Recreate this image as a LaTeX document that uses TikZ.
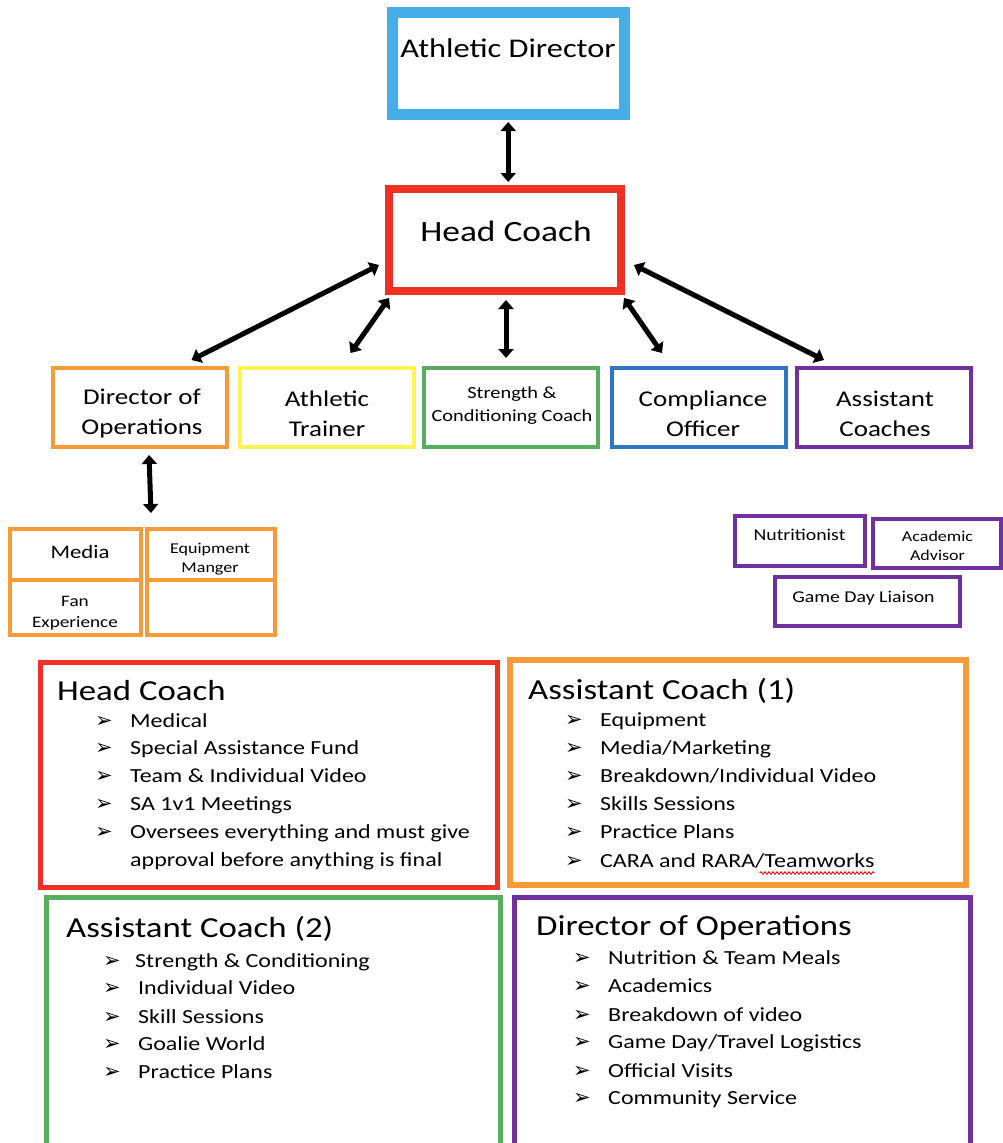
\documentclass[tikz,border=0pt]{standalone}
\usepackage{fontspec}
\setmainfont{Carlito}[FakeStretch=1.2]
\newfontfamily\symfont{DejaVu Sans}
\usetikzlibrary{arrows.meta,calc,decorations.pathmorphing}
\definecolor{cBlue}{HTML}{47ADE8}
\definecolor{cRed}{HTML}{EE3124}
\definecolor{cOrange}{HTML}{F59B38}
\definecolor{cYellow}{HTML}{FFF34D}
\definecolor{cGreen}{HTML}{58AE5E}
\definecolor{cDarkBlue}{HTML}{2F75BF}
\definecolor{cPurple}{HTML}{7130A0}
\newcommand{\fs}[2]{\fontsize{#1}{#2}\selectfont}
\newcommand{\listitem}[5]{%
  \node[bulletmark] (#5b) at (#1,#3) {➢};
  \node[itemtext] (#5) at (#2,#3) {#4};}
\tikzset{
  box/.style={draw, rectangle, inner sep=0pt},
  rowbox/.style={box, line width=4pt, minimum width=174pt, minimum height=79pt},
  rowtext/.style={inner sep=0pt, align=center, font=\fs{22.5}{30}},
  cellbox/.style={box, draw=cOrange, line width=4pt},
  pbox/.style={box, draw=cPurple, line width=4pt},
  bigbox/.style={box, minimum width=456pt},
  titletext/.style={anchor=west, inner sep=0pt, font=\fs{29}{34}},
  itemtext/.style={anchor=west, inner sep=0pt, font=\fs{20}{24}, text height=14pt, text depth=4pt},
  bulletmark/.style={anchor=west, inner sep=0pt, font=\symfont\fs{21}{24}},
  biarrow/.style={{Triangle[length=9pt,width=15pt]}-{Triangle[length=9pt,width=15pt]}, line width=5pt, black},
}
\begin{document}
\begin{tikzpicture}[x=1pt,y=-1pt]
\useasboundingbox (0,0) rectangle (1003,1143);
\clip (0,0) rectangle (1003,1143);
\fill[white] (0,0) rectangle (1003,1143);

% top boxes
\node[box, draw=cBlue, line width=11pt, minimum width=231.5pt, minimum height=102pt] (ad) at (508.25,63.5) {};
\node[inner sep=0pt, font=\fs{27}{32}] (adt) at (508,48) {Athletic Director};
\node[box, draw=cRed, line width=8pt, minimum width=232pt, minimum height=102pt] (hc) at (505,240) {};
\node[inner sep=0pt, font=\fs{29.5}{34}] (hct) at (506,231) {Head Coach};

% row boxes
\node[rowbox, draw=cOrange] (doo) at (139.5,407.5) {};
\node[rowtext] (doot) at (142,414) {Director of\\Operations};
\node[rowbox, draw=cYellow] (at) at (326.5,407.5) {};
\node[rowtext] (att) at (327,414) {Athletic\\Trainer};
\node[rowbox, draw=cGreen] (sc) at (510.5,407.5) {};
\node[rowtext, font=\fs{17}{23}] (sct) at (512,405.5) {Strength \&\\Conditioning Coach};
\node[rowbox, draw=cDarkBlue] (co) at (699,407.5) {};
\node[rowtext] (cot) at (703,414) {Compliance\\Officer};
\node[rowbox, draw=cPurple] (ac) at (884,407.5) {};
\node[rowtext] (act) at (885,414) {Assistant\\Coaches};

% arrows
\draw[biarrow, shorten <=2pt, shorten >=3pt] (ad.south) -- (ad.south |- hc.north);
\draw[biarrow] ($(hc.west)+(-6,25)$) -- ($(doo.north)+(52,-6)$);
\draw[biarrow] ($(hc.south west)+(4,3)$) -- ($(at.north)+(24,-13)$);
\draw[biarrow] ($(hc.south)+(1,5)$) -- ($(sc.north)+(-4.5,-8)$);
\draw[biarrow] ($(hc.south east)+(-1,3)$) -- ($(co.north)+(-37,-13)$);
\draw[biarrow] ($(hc.east)+(9,25)$) -- ($(ac.north)+(-60,-6)$);

% media cells
\node[cellbox, minimum width=131pt, minimum height=51pt] (media) at (75.5,554.5) {};
\node[cellbox, minimum width=131pt, minimum height=55pt] (fan) at (75.5,607.5) {};
\node[cellbox, minimum width=128pt, minimum height=51pt] (equip) at (211,554.5) {};
\node[cellbox, minimum width=128pt, minimum height=55pt] (blank) at (211,607.5) {};
\node[inner sep=0pt, font=\fs{19}{22}] (mediat) at (80,552) {Media};
\node[inner sep=0pt, align=center, font=\fs{16}{21}] (fant) at (75,613.5) {Fan\\Experience};
\node[inner sep=0pt, align=center, font=\fs{15}{19}] (equipt) at (210,559.5) {Equipment\\Manger};
\draw[biarrow] ($(doo.south)+(9.5,6)$) -- ($(media.north east)+(8,-14)$);

% purple small boxes
\node[pbox, minimum width=130pt, minimum height=50pt] (nut) at (800,541) {};
\node[inner sep=0pt, font=\fs{16.5}{20}] (nutt) at (799.5,535) {Nutritionist};
\node[pbox, minimum width=128pt, minimum height=49pt] (acad) at (937,543.5) {};
\node[inner sep=0pt, align=center, font=\fs{15}{19}] (acadt) at (937.5,545.5) {Academic\\Advisor};
\node[pbox, minimum width=185pt, minimum height=49pt] (gdl) at (867.5,601.5) {};
\node[inner sep=0pt, font=\fs{16.5}{20}] (gdlt) at (863.5,598) {Game Day Liaison};

% big list boxes
\node[bigbox, draw=cRed, line width=5pt, minimum width=457pt, minimum height=225pt] (hcl) at (268.5,774.5) {};
\node[bigbox, draw=cOrange, line width=6pt, minimum height=225pt] (acl) at (738,772.5) {};
\node[bigbox, draw=cGreen, line width=5pt, minimum width=454pt, minimum height=260pt] (ac2l) at (273,1027) {};
\node[bigbox, draw=cPurple, line width=5pt, minimum height=260pt] (dol) at (742,1027) {};

% Head Coach list
\node[titletext] (hclt) at (57,691) {Head Coach};
\listitem{95}{130}{722}{Medical}{hca}
\listitem{95}{130}{749}{Special Assistance Fund}{hcb}
\listitem{95}{130}{777}{Team \& Individual Video}{hcc}
\listitem{95}{130}{805}{SA 1v1 Meetings}{hcd}
\listitem{95}{130}{833}{Oversees everything and must give}{hce}
\node[itemtext] (hcf) at (130,861) {approval before anything is final};

% Assistant Coach (1) list
\node[titletext] (aclt) at (528,691) {Assistant Coach (1)};
\listitem{565}{600}{721}{Equipment}{aca}
\listitem{565}{600}{749}{Media/Marketing}{acb}
\listitem{565}{600}{777}{Breakdown/Individual Video}{acc}
\listitem{565}{600}{805}{Skills Sessions}{acd}
\listitem{565}{600}{833}{Practice Plans}{ace}
\listitem{565}{600}{862}{CARA and RARA/Teamworks}{acf}
\draw[red, line width=0.9pt, decorate, decoration={snake, amplitude=1.2pt, segment length=4pt}]
  ($(acf.east)+(-115,11)$) -- ($(acf.east)+(0,11)$);

% Assistant Coach (2) list
\node[titletext] (ac2lt) at (66,929) {Assistant Coach (2)};
\listitem{103}{135}{962}{Strength \& Conditioning}{bca}
\listitem{103}{138}{989}{Individual Video}{bcb}
\listitem{103}{138}{1018}{Skill Sessions}{bcc}
\listitem{103}{138}{1045}{Goalie World}{bcd}
\listitem{103}{138}{1073}{Practice Plans}{bce}

% Director of Operations list
\node[titletext] (dolt) at (536,928) {Director of Operations};
\listitem{573}{608}{959}{Nutrition \& Team Meals}{doa}
\listitem{573}{608}{987}{Academics}{dob}
\listitem{573}{608}{1016}{Breakdown of video}{doc}
\listitem{573}{608}{1043}{Game Day/Travel Logistics}{dod}
\listitem{573}{608}{1072}{Official Visits}{doe}
\listitem{573}{608}{1099}{Community Service}{dof}
\end{tikzpicture}
\end{document}
